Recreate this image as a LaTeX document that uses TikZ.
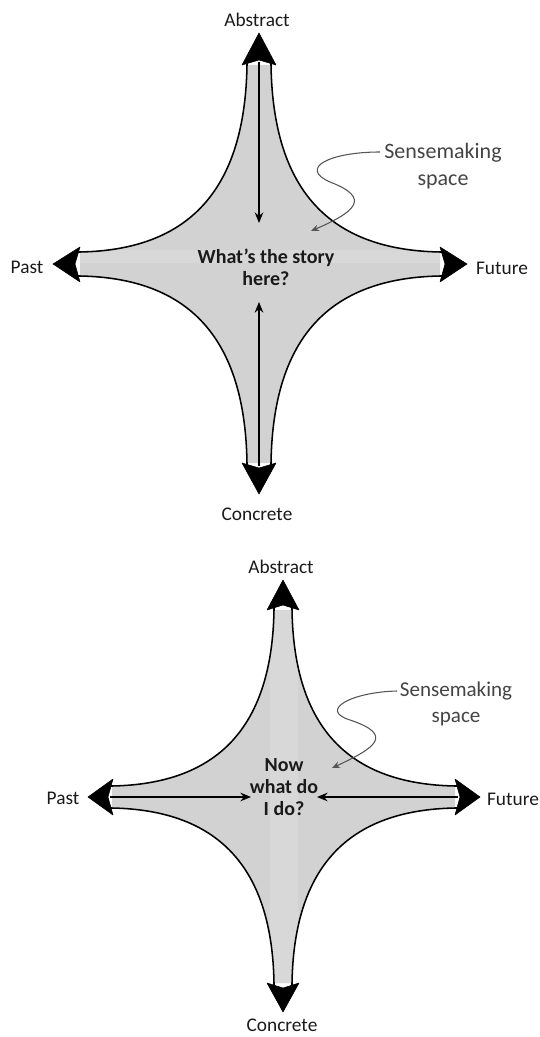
\documentclass[tikz,border=0pt]{standalone}
\usepackage{fontspec}
\setmainfont{Carlito}
\usetikzlibrary{arrows.meta}
\definecolor{starfill}{HTML}{D2D2D2}
\definecolor{stripefill}{HTML}{D8D8D8}
\definecolor{notegray}{HTML}{555555}
\definecolor{labelcol}{HTML}{1A1A1A}
\begin{document}
\begin{tikzpicture}[x=0.75pt,y=-0.75pt,
  outline/.style={draw=black, line width=1.15pt},
  head/.style={fill=black, draw=black, line width=0.4pt, line join=round},
  axislabel/.style={text=labelcol, font=\fontsize{14.5}{17}\selectfont, inner sep=0pt},
  question/.style={text=labelcol, font=\bfseries\fontsize{15}{16.5}\selectfont, align=center, inner sep=0pt},
  note/.style={text=notegray!80!black, font=\fontsize{16.5}{20.5}\selectfont, align=center, inner sep=0pt},
  innerarrow/.style={draw=black, line width=1.1pt, -{Stealth[length=8pt,width=6.5pt]}},
  squiggle/.style={draw=notegray, line width=0.8pt, -{Stealth[length=6pt,width=5pt]}}]
\useasboundingbox (0,0) rectangle (539,1037);

% ================= TOP DIAGRAM =================
\def\topstar{(271,65) .. controls (273,190) and (329,250) .. (440,252) -- (440,276)
  .. controls (329,278) and (273,338) .. (271,463) -- (247,463)
  .. controls (245,338) and (189,278) .. (80,276) -- (80,252)
  .. controls (189,250) and (245,190) .. (247,65) -- cycle}
\fill[starfill] \topstar;
\begin{scope}
  \clip \topstar;
  \fill[stripefill] (60,250) rectangle (460,263);
\end{scope}
\draw[outline] (271,60) -- (271,65) .. controls (273,190) and (329,250) .. (440,252) -- (445,252);
\draw[outline] (445,276) -- (440,276) .. controls (329,278) and (273,338) .. (271,463) -- (271,468);
\draw[outline] (247,468) -- (247,463) .. controls (245,338) and (189,278) .. (80,276) -- (75,276);
\draw[outline] (75,252) -- (80,252) .. controls (189,250) and (245,190) .. (247,65) -- (247,60);

% arrowheads
\filldraw[head] (259,33) -- (276,65) -- (259,60) -- (242,65) -- cycle;
\filldraw[head] (259,494) -- (276,463) -- (259,468) -- (242,463) -- cycle;
\filldraw[head] (53,264) -- (80,247) -- (75,264) -- (80,282) -- cycle;
\filldraw[head] (467,264) -- (440,247) -- (445,264) -- (440,282) -- cycle;

% labels
\node[axislabel] (abs1) at (257,20) {Abstract};
\node[axislabel] (con1) at (257,514) {Concrete};
\node[axislabel] (past1) at (27,267) {Past};
\node[axislabel] (fut1) at (502,268) {Future};
\node[question] (q1) at (266,267) {What’s the story\\here?};
\node[note] (sense1) at (443,166) {Sensemaking\\space};

% inner arrows
\coordinate (t1a) at (259,62);
\coordinate (t1b) at (259,223);
\coordinate (b1a) at (259,466);
\coordinate (b1b) at (259,302);
\draw[innerarrow] (t1a) -- (t1b);
\draw[innerarrow] (b1a) -- (b1b);

% squiggle
\coordinate (s1start) at (380,152);
\coordinate (s1tip) at (311,231);
\draw[squiggle] (s1start)
  .. controls (330,152) and (298,168) .. (330,182)
  .. controls (372,198) and (355,212) .. (s1tip);

% ================= BOTTOM DIAGRAM =================
\def\botstar{(292,610) .. controls (294,727) and (348,784) .. (455,786) -- (455,808)
  .. controls (348,810) and (294,867) .. (292,983) -- (274,983)
  .. controls (272,867) and (218,810) .. (112,808) -- (112,786)
  .. controls (218,784) and (272,727) .. (274,610) -- cycle}
\fill[starfill] \botstar;
\begin{scope}
  \clip \botstar;
  \fill[stripefill] (270,580) rectangle (298,1012);
\end{scope}
\draw[outline] (292,605) -- (292,610) .. controls (294,727) and (348,784) .. (455,786) -- (460,786);
\draw[outline] (460,808) -- (455,808) .. controls (348,810) and (294,867) .. (292,983) -- (292,988);
\draw[outline] (274,988) -- (274,983) .. controls (272,867) and (218,810) .. (112,808) -- (107,808);
\draw[outline] (107,786) -- (112,786) .. controls (218,784) and (272,727) .. (274,610) -- (274,605);

\filldraw[head] (283,580) -- (299,610) -- (283,605) -- (267,610) -- cycle;
\filldraw[head] (283,1012) -- (299,983) -- (283,988) -- (267,983) -- cycle;
\filldraw[head] (88,797) -- (113,779) -- (108,797) -- (113,815) -- cycle;
\filldraw[head] (480,797) -- (455,779) -- (460,797) -- (455,815) -- cycle;

\node[axislabel] (abs2) at (281,567) {Abstract};
\node[axislabel] (con2) at (282,1025) {Concrete};
\node[axislabel] (past2) at (63,798) {Past};
\node[axislabel] (fut2) at (513,799) {Future};
\node[question, font=\bfseries\fontsize{15}{16.2}\selectfont] (q2) at (284,787) {Now\\what do\\I do?};
\node[note, font=\fontsize{15.8}{19.5}\selectfont] (sense2) at (456,704) {Sensemaking\\space};

\coordinate (l2a) at (110,797);
\coordinate (l2b) at (251,797);
\coordinate (r2a) at (458,797);
\coordinate (r2b) at (317,797);
\draw[innerarrow] (l2a) -- (l2b);
\draw[innerarrow] (r2a) -- (r2b);

\coordinate (s2start) at (397,691);
\coordinate (s2tip) at (332,768);
\draw[squiggle] (s2start)
  .. controls (352,692) and (318,710) .. (350,720)
  .. controls (395,735) and (375,748) .. (s2tip);
\end{tikzpicture}
\end{document}
